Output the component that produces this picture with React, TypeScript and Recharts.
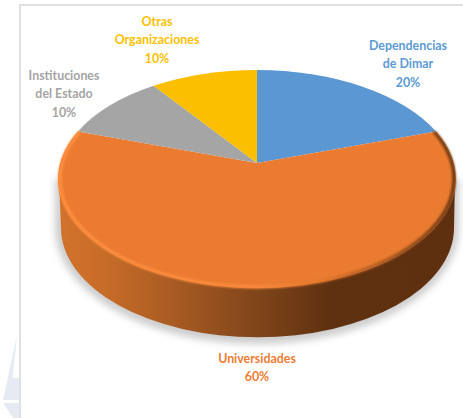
import React from 'react';
import { PieChart, Pie, Cell } from 'recharts';

const names = ['Dependencias de Dimar', 'Universidades', 'Instituciones del Estado', 'Otras Organizaciones'];
const values = [20, 60, 10, 10];
const colors = ['#5b97d3', '#ea7b30', '#a5a5a5', '#fbbf00'];
const labelColors = ['#5b9bd5', '#ed7d31', '#a5a5a5', '#ffc000'];
const labelLines = [['Dependencias', 'de Dimar'], ['Universidades'], ['Instituciones', 'del Estado'], ['Otras', 'Organizaciones']];
const labelCenters = [[408, 45], [257, 358], [64, 75], [157, 21]];
const data = names.map((name, i) => ({ name, value: values[i] }));

const W = 463, H = 418;
const CX = 257, CY = 179, RX = 199, RY = 109;
const ASPECT = RY / RX;
const TILT = 0.147; // how far the pie's apex sits above the centre of the ellipse
const DEPTH = 49;

// Projects a pie angle (recharts degrees) on to the tilted disc's rim
const rimAngle = (deg: number) => {
  const a = (deg * Math.PI) / 180;
  const u = Math.cos(a), v = Math.sin(a);
  const d = 1 + TILT * v;
  const u2 = (u * Math.sqrt(1 - TILT * TILT)) / d;
  const v2 = (v + TILT) / d;
  return Math.atan2(v2, u2);
};
const pt = (cx: number, cy: number, rx: number, t: number) => [cx + rx * Math.cos(t), cy - rx * ASPECT * Math.sin(t)];

const topPath = (p: any) => {
  const { cx, cy, outerRadius: r, startAngle, endAngle } = p;
  const t0 = rimAngle(startAngle), t1 = rimAngle(endAngle);
  const [x0, y0] = pt(cx, cy, r, t0);
  const [x1, y1] = pt(cx, cy, r, t1);
  const apexY = cy - TILT * r * ASPECT;
  const sweep = Math.abs(startAngle - endAngle);
  return `M${cx},${apexY}L${x0},${y0}A${r},${r * ASPECT} 0 ${sweep > 180 ? 1 : 0} 1 ${x1},${y1}Z`;
};

const TopShape = (p: any) => <path d={topPath(p)} fill={p.fill} />;

// The wall shows only where a slice's rim faces the viewer (lower half of the ellipse)
const WallShape = (p: any) => {
  const { cx, cy, outerRadius: r, startAngle, endAngle } = p;
  if (Math.abs(startAngle - endAngle) < 180) return <g />;
  const L = pt(cx, cy, r, Math.PI);
  const R = pt(cx, cy, r, 0);
  const ry = r * ASPECT;
  const wall = `M${L[0] + 1},${L[1]}A${r},${ry} 0 0 0 ${R[0] - 1},${R[1]}L${R[0] - 2},${R[1] + DEPTH}A${r - 3},${ry} 0 0 1 ${L[0] + 3},${L[1] + DEPTH}Z`;
  const shadow = `M${L[0] - 3},${L[1]}L${L[0] - 3},${L[1] + DEPTH}A${r + 3},${ry + 7} 0 0 0 ${R[0] + 3},${R[1] + DEPTH}L${R[0] + 3},${R[1]}Z`;
  return (
    <g>
      <path d={shadow} fill="#cdcdcd" filter="url(#softShadow)" />
      <path d={wall} fill="url(#wallGrad)" />
    </g>
  );
};

// Bevelled edge of the top face
const RimShape = (p: any) => {
  const { cx, cy, outerRadius: r, startAngle, endAngle } = p;
  if (Math.abs(startAngle - endAngle) < 180) return <g />;
  const t0 = rimAngle(startAngle), t1 = rimAngle(endAngle);
  const inset = 2;
  const a = pt(cx, cy, r - inset, t0), b = pt(cx, cy, r - inset, t1);
  const d = `M${a[0]},${a[1]}A${r - inset},${(r - inset) * ASPECT} 0 1 1 ${b[0]},${b[1]}`;
  return <path d={d} fill="none" stroke="url(#rimGrad)" strokeWidth={3.5} filter="url(#rimBlur)" />;
};

const renderLabel = (p: any) => {
  const i = p.index;
  const [x, y] = labelCenters[i];
  const lines = [...labelLines[i], `${values[i]}%`];
  return (
    <text key={i} x={x} textAnchor="middle" fill={labelColors[i]} fontFamily="Lato, sans-serif" fontWeight={700} fontSize={12.4}>
      {lines.map((l, k) => (
        <tspan key={k} x={x} y={y + 18.3 * k + 5}>{l}</tspan>
      ))}
    </text>
  );
};

const common = {
  data,
  dataKey: 'value',
  nameKey: 'name',
  cx: CX,
  cy: CY,
  innerRadius: 0,
  outerRadius: RX,
  startAngle: 90,
  endAngle: -270,
  stroke: 'none',
  isAnimationActive: false,
  labelLine: false,
};

export default function App() {
  return (
    <div style={{ position: 'absolute', left: 0, top: 0, width: W, height: H, background: '#fff', overflow: 'hidden' }}>
      <svg width={W} height={H} style={{ position: 'absolute', left: 0, top: 0 }}>
        <polygon points="17,335 12.5,378 19,378 19,400 3,400" fill="#e6ebf3" />
        <polygon points="3,403 19,403 19,418 13,418" fill="#e6ebf3" />
        <rect x={19} y={4} width={444} height={2} fill="#e0e0e0" />
        <rect x={19} y={4} width={2} height={414} fill="#e0e0e0" />
      </svg>
      <div style={{ position: 'absolute', left: 0, top: 0 }}>
        <PieChart width={W} height={H} margin={{ top: 0, right: 0, bottom: 0, left: 0 }}>
          <defs>
            <linearGradient id="wallGrad" gradientUnits="userSpaceOnUse" x1={58} y1={0} x2={456} y2={0}>
              <stop offset="0" stopColor="#d2732c" />
              <stop offset="0.12" stopColor="#c66c28" />
              <stop offset="0.3" stopColor="#a75a22" />
              <stop offset="0.5" stopColor="#80451a" />
              <stop offset="0.68" stopColor="#5f3111" />
              <stop offset="1" stopColor="#5e3010" />
            </linearGradient>
            <linearGradient id="rimGrad" gradientUnits="userSpaceOnUse" x1={58} y1={0} x2={456} y2={0}>
              <stop offset="0" stopColor="#ff8f3f" />
              <stop offset="0.5" stopColor="#f98a3e" />
              <stop offset="0.68" stopColor="#e0752c" />
              <stop offset="0.85" stopColor="#9a5220" />
              <stop offset="1" stopColor="#6a3812" />
            </linearGradient>
            <filter id="softShadow" x="-10%" y="-10%" width="120%" height="120%">
              <feGaussianBlur stdDeviation="3.5" />
            </filter>
            <filter id="rimBlur" x="-5%" y="-5%" width="110%" height="110%">
              <feGaussianBlur stdDeviation="0.9" />
            </filter>
          </defs>
          <Pie {...common} shape={WallShape} />
          <Pie {...common} shape={TopShape} label={renderLabel}>
            {data.map((d, i) => <Cell key={d.name} fill={colors[i]} />)}
          </Pie>
          <Pie {...common} shape={RimShape} />
        </PieChart>
      </div>
    </div>
  );
}
